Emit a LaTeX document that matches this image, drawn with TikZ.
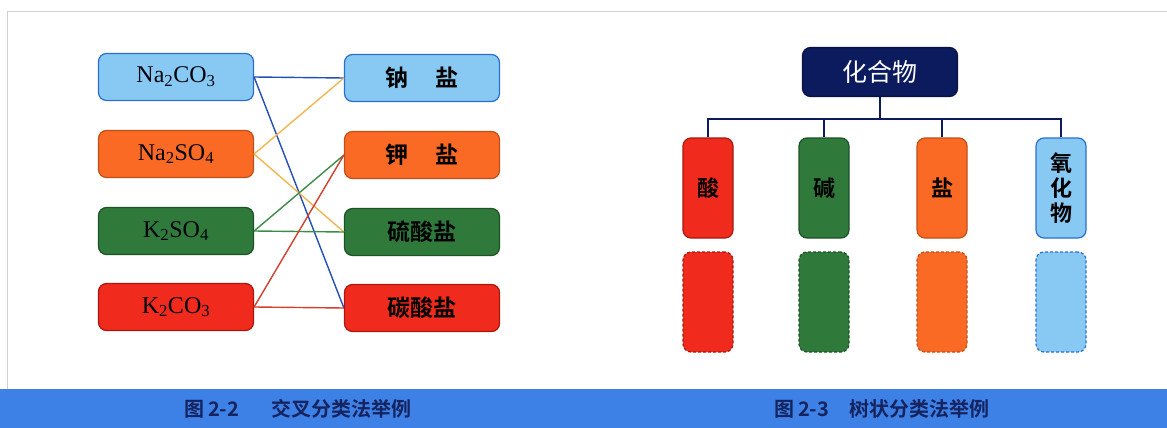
\documentclass[tikz,border=0pt]{standalone}
\usepackage{fontspec}
\setmainfont{Liberation Serif}
\newfontfamily\cjk{Noto Sans CJK SC}[BoldFont={Noto Sans CJK SC Bold}]
\usetikzlibrary{positioning}
\definecolor{skyfill}{HTML}{88C9F4}
\definecolor{skyedge}{HTML}{2A6FD0}
\definecolor{orfill}{HTML}{FB6A24}
\definecolor{oredge}{HTML}{C04E18}
\definecolor{grfill}{HTML}{2F7A3B}
\definecolor{gredge}{HTML}{1C5226}
\definecolor{rdfill}{HTML}{F02A1C}
\definecolor{rdedge}{HTML}{A8180E}
\definecolor{navy}{HTML}{0C1B5E}
\definecolor{band}{HTML}{3D80E6}
\definecolor{captxt}{HTML}{15245E}
\definecolor{lnblue}{HTML}{2450B4}
\definecolor{lnyel}{HTML}{F2B650}
\definecolor{lngreen}{HTML}{3C8C4A}
\definecolor{lnred}{HTML}{D2402E}
\tikzset{
  salt/.style={rounded corners=8pt, line width=1.2pt, minimum width=155pt, minimum height=47pt, inner sep=0pt},
  formula/.style={salt, text=black!85!navy, font=\fontsize{24}{24}\selectfont},
  kind/.style={salt, font=\cjk\bfseries\fontsize{23}{23}\selectfont},
  kid/.style={rounded corners=8pt, line width=1.2pt, minimum width=50pt, minimum height=100pt, inner sep=0pt, align=center, font=\cjk\bfseries\fontsize{22}{25}\selectfont},
  blank/.style={kid, densely dashed},
  link/.style={line width=1.4pt},
  figcaption/.style={text=captxt, font=\cjk\bfseries\fontsize{20}{20}\selectfont}
}
\begin{document}
\begin{tikzpicture}[x=1pt, y=-1pt]
\useasboundingbox (0,0) rectangle (1167,428);
\fill[white] (0,0) rectangle (1167,428);
\draw[black!18, line width=1pt] (7,428-38) -- (7,12) -- (1167,12);
\fill[band] (0,389) rectangle (1167,428);
% cross classification
\node[formula, fill=skyfill, draw=skyedge] (na2co3) at (176,77) {Na\textsubscript{2}CO\textsubscript{3}};
\node[formula, fill=orfill, draw=oredge] (na2so4) at (176,154) {Na\textsubscript{2}SO\textsubscript{4}};
\node[formula, fill=grfill, draw=gredge] (k2so4) at (176,231) {K\textsubscript{2}SO\textsubscript{4}};
\node[formula, fill=rdfill, draw=rdedge] (k2co3) at (176,307) {K\textsubscript{2}CO\textsubscript{3}};
\node[kind, fill=skyfill, draw=skyedge] (nayan) at (422,78) {钠\hspace{1.2em}盐};
\node[kind, fill=orfill, draw=oredge] (jiayan) at (422,155) {钾\hspace{1.2em}盐};
\node[kind, fill=grfill, draw=gredge] (liusuanyan) at (422,232) {硫酸盐};
\node[kind, fill=rdfill, draw=rdedge] (tansuanyan) at (422,308) {碳酸盐};
\draw[link, lnblue] (na2co3.east) -- (nayan.west);
\draw[link, lnblue] (na2co3.east) -- (tansuanyan.west);
\draw[link, lnyel] (na2so4.east) -- (nayan.west);
\draw[link, lnyel] (na2so4.east) -- (liusuanyan.west);
\draw[link, lngreen] (k2so4.east) -- (jiayan.west);
\draw[link, lngreen] (k2so4.east) -- (liusuanyan.west);
\draw[link, lnred] (k2co3.east) -- (jiayan.west);
\draw[link, lnred] (k2co3.east) -- (tansuanyan.west);
% tree classification
\node[salt, fill=navy, draw=navy!70!black, text=white, font=\cjk\fontsize{25}{25}\selectfont, minimum height=49pt] (huahewu) at (880,72) {化合物};
\coordinate (fork) at (880,119);
\node[kid, fill=rdfill, draw=rdedge] (suan) at (708,188) {酸};
\node[kid, fill=grfill, draw=gredge] (jian) at (824,188) {碱};
\node[kid, fill=orfill, draw=oredge] (yan) at (942,188) {盐};
\node[kid, fill=skyfill, draw=skyedge] (yanghuawu) at (1061,188) {氧\\化\\物};
\node[blank, fill=rdfill, draw=rdedge] (suan2) at (708,302) {};
\node[blank, fill=grfill, draw=gredge] (jian2) at (824,302) {};
\node[blank, fill=orfill, draw=oredge] (yan2) at (942,302) {};
\node[blank, fill=skyfill, draw=skyedge] (yanghuawu2) at (1061,302) {};
\draw[navy, line width=1.3pt] (huahewu.south) -- (fork);
\draw[navy, line width=1.3pt] (suan.north) |- (fork);
\draw[navy, line width=1.3pt] (jian.north) |- (fork);
\draw[navy, line width=1.3pt] (yan.north) |- (fork);
\draw[navy, line width=1.3pt] (yanghuawu.north) |- (fork);
% captions
\node[figcaption] (cap22) at (298,409) {图\,2-2\hspace{1.6em}交叉分类法举例};
\node[figcaption] (cap23) at (882,409) {图\,2-3\hspace{1em}树状分类法举例};
\end{tikzpicture}
\end{document}
